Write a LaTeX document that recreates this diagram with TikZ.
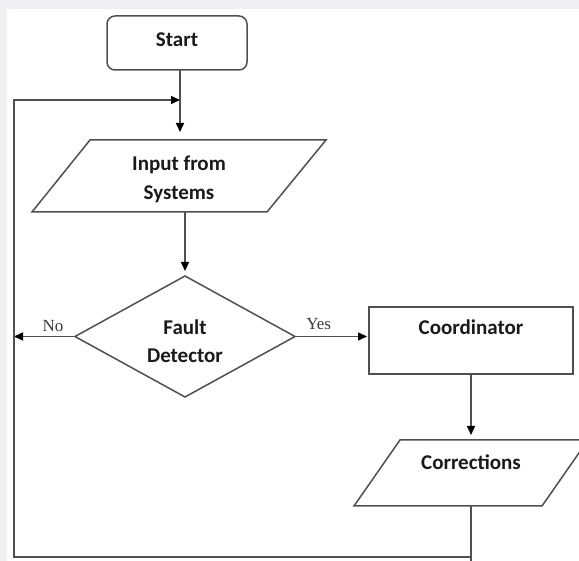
\documentclass[tikz,border=0pt]{standalone}
\usepackage{fontspec}
\setmainfont{Carlito}
\newfontfamily\labserif{Liberation Serif}
\usetikzlibrary{shapes.geometric,arrows.meta}
\definecolor{bgg}{HTML}{EEF0F3}
\definecolor{ln}{HTML}{505050}
\definecolor{txt}{HTML}{1A1A1A}
\tikzset{
  shp/.style={draw=ln, line width=1.5pt, fill=white, inner sep=0pt, outer sep=0pt},
  startbox/.style={shp, rectangle, rounded corners=8pt, minimum width=140pt, minimum height=54pt},
  procbox/.style={shp, rectangle, minimum width=204pt, minimum height=67pt},
  decbox/.style={shp, diamond, minimum width=220pt, minimum height=121pt},
  paraframe/.style={rectangle, inner sep=0pt, outer sep=0pt},
  paraline/.style={draw=ln, line width=1.5pt, fill=white, line join=miter},
  lbl/.style={text=txt, font=\fontsize{21}{29}\selectfont\bfseries, align=center, inner sep=0pt, text height=14pt, text depth=4pt},
  yn/.style={text=txt!85, font=\fontsize{17}{20}\labserif, inner sep=0pt},
  conn/.style={draw=ln, line width=1.5pt},
  arr/.style={conn, -{Triangle[length=9pt,width=8pt,color=black,fill=black]}},
}
\begin{document}
\begin{tikzpicture}[x=1pt,y=-1pt]
\useasboundingbox (0,0) rectangle (579,561);
\clip (0,0) rectangle (579,561);
\fill[bgg] (0,0) rectangle (579,561);
\fill[white] (7,9) rectangle (579,561);

% Start
\node[startbox] (start) at (177,43) {};
\node[lbl] (startT) at (177,42) {Start};

% Input from Systems (parallelogram)
\node[paraframe, minimum width=294pt, minimum height=72pt] (input) at (179,176) {};
\draw[paraline] ([xshift=58pt]input.north west) -- (input.north east)
   -- ([xshift=-59pt]input.south east) -- (input.south west) -- cycle;
\node[lbl] (inputT) at (179,194.5) {Input from\\Systems};

% Fault Detector
\node[decbox] (fd) at (185,336.5) {};
\node[lbl, font=\fontsize{21}{28}\selectfont\bfseries] (fdT) at (185,357.5) {Fault\\Detector};

% Coordinator
\node[procbox] (coord) at (471,340.5) {};
\node[lbl] (coordT) at (471,330) {Coordinator};

% Corrections (parallelogram)
\node[paraframe, minimum width=234pt, minimum height=66pt] (corr) at (471,473) {};
\draw[paraline] ([xshift=46pt]corr.north west) -- (corr.north east)
   -- ([xshift=-46pt]corr.south east) -- (corr.south west) -- cycle;
\node[lbl] (corrT) at (471,465) {Corrections};

% loop coordinates
\coordinate (j) at (180,100);
\coordinate (loopL) at (14,557);
\coordinate (loopT) at (14,100);

% connectors
\draw[arr, shorten >=8pt] (start.south -| j) -- (input.north -| j);
\draw[arr, shorten >=5pt] (input.south -| fd.north) -- (fd.north);
\draw[arr] (fd.west) -- (fd.west -| loopL)
   node[yn, pos=0.36, yshift=10pt] (no) {No};
\draw[arr, shorten >=2pt] (fd.east) -- (fd.east -| coord.west)
   node[yn, pos=0.32, yshift=12pt] (yes) {Yes};
\draw[arr, shorten >=5pt] (coord.south) -- (corr.north);
\draw[conn] (corr.south) -- ++(0,60);
\draw[arr] (corr.south) -- (corr.south |- loopL) -- (loopL) -- (loopT) -- (j);
\end{tikzpicture}
\end{document}
